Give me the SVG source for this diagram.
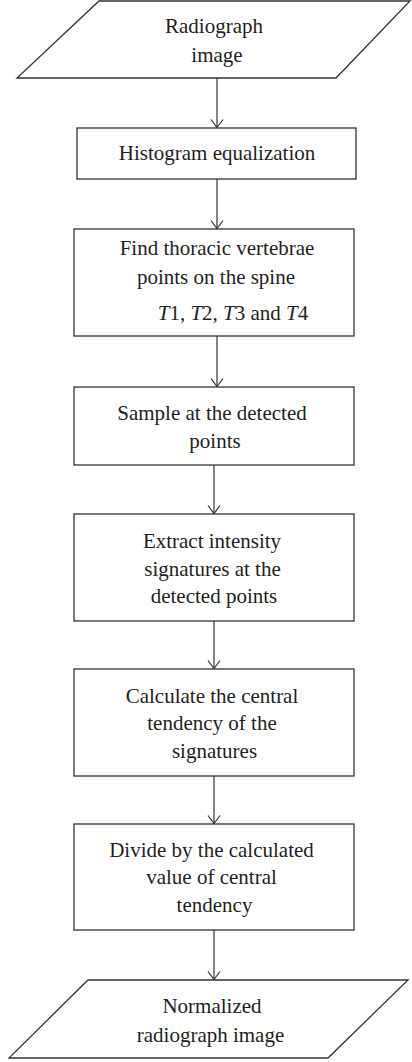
<svg xmlns="http://www.w3.org/2000/svg" width="412" height="1062" viewBox="0 0 412 1062">
<defs>
<style>
.s{fill:#fff;stroke:#333;stroke-width:1.3}
.t{font-family:'Liberation Serif','Times New Roman',serif;font-size:21px;fill:#231f20;text-anchor:middle}
.c{stroke:#333;stroke-width:1.2;fill:none}
</style>
<marker id="ah" viewBox="-10 -8 12 16" refX="0" refY="0" markerWidth="12" markerHeight="16" markerUnits="userSpaceOnUse" orient="auto">
<path d="M-8,-6 L0,0 L-8,6" fill="none" stroke="#333" stroke-width="1.2"/>
</marker>
</defs>
<rect width="412" height="1062" fill="#fff"/>
<g id="connectors">
<line class="c" x1="217" y1="78" x2="217" y2="127.5" marker-end="url(#ah)"/>
<line class="c" x1="217" y1="179" x2="217" y2="228.5" marker-end="url(#ah)"/>
<line class="c" x1="217" y1="336" x2="217" y2="386.5" marker-end="url(#ah)"/>
<line class="c" x1="214" y1="465" x2="214" y2="513.5" marker-end="url(#ah)"/>
<line class="c" x1="214" y1="621" x2="214" y2="668.5" marker-end="url(#ah)"/>
<line class="c" x1="214" y1="776" x2="214" y2="823.5" marker-end="url(#ah)"/>
<line class="c" x1="214" y1="930" x2="214" y2="979.5" marker-end="url(#ah)"/>
</g>
<g font-family="Liberation Serif, serif">
<g id="n0">
<polygon class="s" points="99,1 410,1 336,78 17,78"/>
<text class="t" x="214" y="33">Radiograph</text>
<text class="t" x="217" y="62">image</text>
</g>
<g id="n1">
<rect class="s" x="77" y="128" width="279" height="51"/>
<text class="t" x="217" y="160">Histogram equalization</text>
</g>
<g id="n2">
<rect class="s" x="74" y="229" width="280" height="107"/>
<text class="t" x="217" y="255">Find thoracic vertebrae</text>
<text class="t" x="216" y="284">points on the spine</text>
<text class="t" x="233" y="320"><tspan font-style="italic">T</tspan>1, <tspan font-style="italic">T</tspan>2, <tspan font-style="italic">T</tspan>3 and <tspan font-style="italic">T</tspan>4</text>
</g>
<g id="n3">
<rect class="s" x="74" y="387" width="280" height="78"/>
<text class="t" x="212" y="420">Sample at the detected</text>
<text class="t" x="215" y="448">points</text>
</g>
<g id="n4">
<rect class="s" x="74" y="514" width="280" height="107"/>
<text class="t" x="212" y="548">Extract intensity</text>
<text class="t" x="212.5" y="576">signatures at the</text>
<text class="t" x="214" y="603">detected points</text>
</g>
<g id="n5">
<rect class="s" x="74" y="669" width="280" height="107"/>
<text class="t" x="212" y="703">Calculate the central</text>
<text class="t" x="212" y="730">tendency of the</text>
<text class="t" x="214.5" y="758">signatures</text>
</g>
<g id="n6">
<rect class="s" x="74" y="824" width="280" height="106"/>
<text class="t" x="211.5" y="857">Divide by the calculated</text>
<text class="t" x="211.5" y="884">value of central</text>
<text class="t" x="214.5" y="912">tendency</text>
</g>
<g id="n7">
<polygon class="s" points="88,980 408,980 328,1058 9,1058"/>
<text class="t" x="212" y="1013">Normalized</text>
<text class="t" x="210.5" y="1042">radiograph image</text>
</g>
</g>
</svg>
